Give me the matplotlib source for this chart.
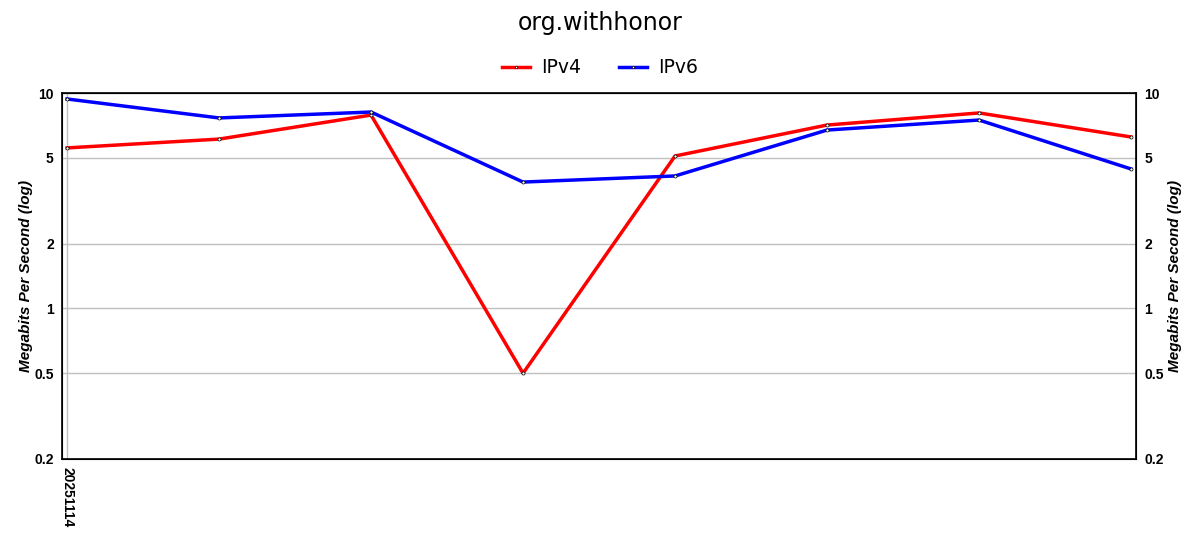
import numpy as np
import matplotlib.pyplot as plt
from matplotlib.ticker import FixedLocator, NullLocator

dates = ["20251114", "", "", "", "", "", "", ""]
ipv4 = [5.56, 6.11, 7.90, 0.50, 5.10, 7.10, 8.08, 6.25]
ipv6 = [9.38, 7.66, 8.16, 3.86, 4.12, 6.73, 7.49, 4.44]
yticks = [0.2, 0.5, 1, 2, 5, 10]
ytick_labels = ["0.2", "0.5", "1", "2", "5", "10"]

plt.rcParams['font.family'] = ['Liberation Sans', 'DejaVu Sans']

fig = plt.figure(figsize=(12, 5.5), dpi=100)
ax = fig.add_axes([0.0517, 0.1655, 0.895, 0.6654])
x = np.arange(len(ipv4))

ax.plot(x, ipv4, color="#ff0000", lw=2.5, label="IPv4", marker="o", ms=2.2,
        mfc="white", mec="black", mew=0.5, zorder=3)
ax.plot(x, ipv6, color="#0000ff", lw=2.5, label="IPv6", marker="o", ms=2.2,
        mfc="white", mec="black", mew=0.5, zorder=3)

ax.set_yscale("log")
ax.set_ylim(0.2, 10)
ax.set_xlim(-0.033, 7.033)
ax.yaxis.set_major_locator(FixedLocator(yticks))
ax.yaxis.set_minor_locator(NullLocator())
ax.set_yticklabels(ytick_labels, fontweight="bold", fontsize=10)
ax.set_xticks([0])
ax.set_xticklabels([dates[0]], rotation=-90, fontweight="bold", fontsize=10)
ax.tick_params(length=0, pad=6)
ax.grid(True, color="#c0c0c0", lw=1)
ax.set_axisbelow(True)
for s in ax.spines.values():
    s.set_linewidth(1.2)

ax.set_ylabel("Megabits Per Second (log)", fontstyle="italic", fontweight="bold", fontsize=11,
              labelpad=1)

ax2 = ax.twinx()
ax2.set_yscale("log")
ax2.set_ylim(0.2, 10)
ax2.yaxis.set_major_locator(FixedLocator(yticks))
ax2.yaxis.set_minor_locator(NullLocator())
ax2.set_yticklabels(ytick_labels, fontweight="bold", fontsize=10)
ax2.tick_params(length=0, pad=6)
ax2.set_ylabel("Megabits Per Second (log)", fontstyle="italic", fontweight="bold", fontsize=11,
               rotation=90, labelpad=3)

fig.suptitle("org.withhonor", fontsize=17, y=0.98, family="DejaVu Sans")
fig.legend(loc="upper center", bbox_to_anchor=(0.5, 0.925), ncol=2, frameon=False,
           prop={"family": "DejaVu Sans", "size": 13.5}, handlelength=1.5, handletextpad=0.6,
           columnspacing=2.0, markerscale=0.8)

fig.savefig("out.png", dpi=100)
